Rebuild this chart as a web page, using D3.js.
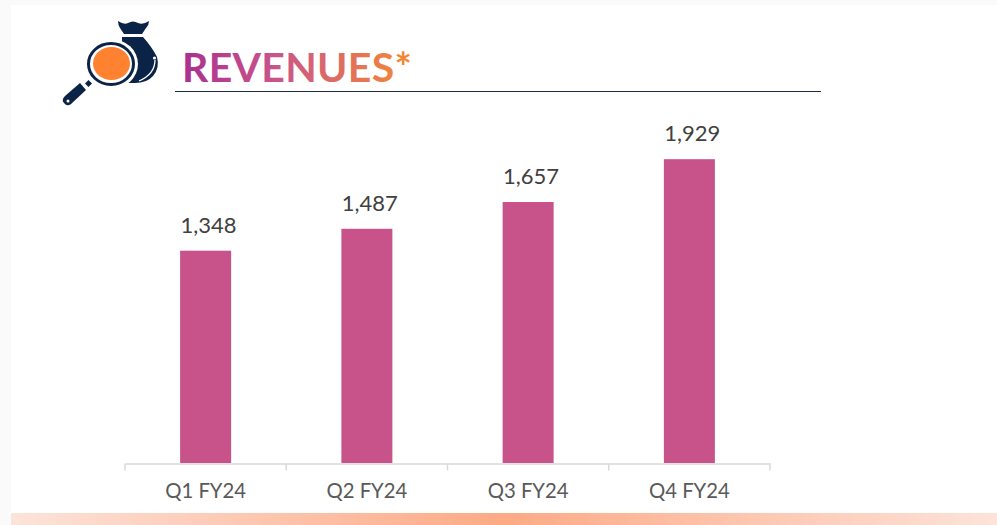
<!DOCTYPE html>
<html><head><meta charset="utf-8">
<script src="https://cdn.jsdelivr.net/npm/d3@7"></script>
<style>html,body{margin:0;padding:0;background:#fff;overflow:hidden}svg{display:block}text{font-family:Lato,"Open Sans",sans-serif}</style>
</head><body>
<svg id="c" width="997" height="525"></svg>
<script>
const categories = ["Q1 FY24","Q2 FY24","Q3 FY24","Q4 FY24"];
const revenues = [1348,1487,1657,1929];
const titleText = "REVENUES*";

const svg = d3.select("#c");
const defs = svg.append("defs");
const tg = defs.append("linearGradient").attr("id","tg").attr("gradientUnits","userSpaceOnUse")
  .attr("x1",182).attr("x2",412).attr("y1",0).attr("y2",0);
tg.append("stop").attr("offset",0).attr("stop-color","#a9308e");
tg.append("stop").attr("offset",0.4).attr("stop-color","#c9548a");
tg.append("stop").attr("offset",1).attr("stop-color","#f58a33");
const bg = defs.append("linearGradient").attr("id","bg");
bg.append("stop").attr("offset",0).attr("stop-color","#fde3da");
bg.append("stop").attr("offset",0.5).attr("stop-color","#fdaa85");
bg.append("stop").attr("offset",1).attr("stop-color","#fde3da");

// page frame
svg.append("rect").attr("width",997).attr("height",525).attr("fill","#fafafa");
svg.append("rect").attr("x",11).attr("y",5).attr("width",986).attr("height",520).attr("fill","#fff");
svg.append("rect").attr("x",11).attr("y",513).attr("width",986).attr("height",12).attr("fill","url(#bg)");

// icon
const navy = "#0a2347";
const icon = svg.append("g");
icon.append("path").attr("fill",navy) // knot
  .attr("d","M118 21 Q124 25 128 23 Q133 20 138 23 Q143 25 149 21 Q149 25 146 28 L142 34 L124 34 L120 28 Q118 25 118 21 Z");
icon.append("path").attr("fill",navy) // body
  .attr("d","M122 37 L143 37 Q152 47 157 57 Q160 68 153 76 Q147 83 135 83 L122 83 Z");
icon.append("path").attr("fill","none").attr("stroke","#fff").attr("stroke-width",1.3)
  .attr("d","M155 60 Q155 74 139 81");
icon.append("circle").attr("cx",154.5).attr("cy",58).attr("r",1.6).attr("fill","#fff");
icon.append("ellipse").attr("cx",111).attr("cy",64).attr("rx",27).attr("ry",25).attr("fill","#fff");
icon.append("ellipse").attr("cx",111).attr("cy",64).attr("rx",22.5).attr("ry",20.5).attr("fill","none").attr("stroke",navy).attr("stroke-width",3);
icon.append("ellipse").attr("cx",111.5).attr("cy",63.5).attr("rx",18.5).attr("ry",16.5).attr("fill","#fe8230");
icon.append("path").attr("fill",navy).attr("d","M88.5 80 L92 83.5 L88.5 87 L85 83.5 Z");
icon.append("path").attr("fill",navy).attr("d","M80 83 L86 90 L71 104 Q67 107 64 103 Q61 100 65 96 Z");
icon.append("circle").attr("cx",68).attr("cy",101).attr("r",1.5).attr("fill","#fff");

// title
svg.append("text").attr("x",182).attr("y",82).attr("font-size",41).attr("font-weight",700)
  .attr("letter-spacing",0.3)
  .attr("fill","url(#tg)").text(titleText);
svg.append("line").attr("x1",175).attr("x2",821).attr("y1",91.5).attr("y2",91.5).attr("stroke","#1f2a44").attr("stroke-width",1);

// chart
const x = d3.scaleBand().domain(categories).range([125,770]).paddingInner(0).paddingOuter(0);
const y = d3.scaleLinear().domain([0,2000]).range([463,148]);
const barW = 51;

svg.append("g").selectAll("rect").data(revenues).join("rect")
  .attr("x",(d,i)=>x(categories[i])+x.bandwidth()/2-barW/2)
  .attr("y",d=>y(d)).attr("width",barW).attr("height",d=>y(0)-y(d)).attr("fill","#c8528a");

const axis = d3.axisBottom(x).tickSize(0).tickPadding(20);
const ax = svg.append("g").attr("transform","translate(0,463.5)").call(axis);
ax.select(".domain").attr("stroke","#d9d9d9").attr("stroke-width",1.5);
ax.selectAll("text").attr("font-size",20.3).attr("fill","#595959").attr("font-family","Lato");
const edges = [...categories.map(c=>x(c)), x.range()[1]];
ax.selectAll("line.edge").data(edges).join("line").attr("class","edge")
  .attr("x1",d=>d).attr("x2",d=>d).attr("y1",0).attr("y2",7).attr("stroke","#d9d9d9").attr("stroke-width",1.5);

svg.append("g").selectAll("text").data(revenues).join("text")
  .attr("x",(d,i)=>x(categories[i])+x.bandwidth()/2+3)
  .attr("y",d=>y(d)-18).attr("text-anchor","middle").attr("font-size",22).attr("fill","#404040")
  .text(d=>d3.format(",")(d));
</script>
</body></html>
